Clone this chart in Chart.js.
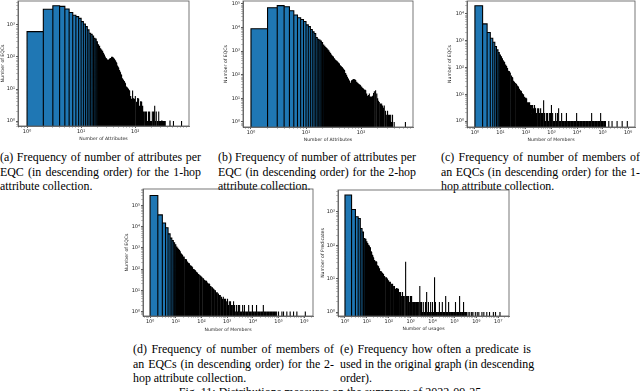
<!DOCTYPE html>
<html><head><meta charset="utf-8">
<script src="https://cdn.jsdelivr.net/npm/chart.js@4/dist/chart.umd.min.js"></script>
<style>
html,body{margin:0;padding:0;background:#fff;width:640px;height:391px;overflow:hidden}
body{position:relative}
canvas{position:absolute}
.cap{position:absolute;font-family:"Liberation Serif","Times New Roman",serif;font-size:11.9px;line-height:14.5px;color:#000}
.cap div{text-align:justify;text-align-last:justify;white-space:nowrap}
.cap div.last{text-align-last:left}
.fig{position:absolute;left:10px;width:640px;text-align:center;font-family:"Liberation Serif","Times New Roman",serif;font-size:12px;line-height:14.5px;white-space:nowrap}
</style></head><body>

<div class="cap" style="left:0;top:150px;width:201px">
<div>(a) Frequency of number of attributes per</div>
<div>EQC (in descending order) for the 1-hop</div>
<div class="last">attribute collection.</div>
</div>
<div class="cap" style="left:218px;top:150px;width:198px">
<div>(b) Frequency of number of attributes per</div>
<div>EQC (in descending order) for the 2-hop</div>
<div class="last">attribute collection.</div>
</div>
<div class="cap" style="left:441px;top:150px;width:199px">
<div>(c) Frequency of number of members of</div>
<div>an EQCs (in descending order) for the 1-</div>
<div class="last">hop attribute collection.</div>
</div>
<div class="cap" style="left:133px;top:342px;width:201px">
<div>(d) Frequency of number of members of</div>
<div>an EQCs (in descending order) for the 2-</div>
<div class="last">hop attribute collection.</div>
</div>
<div class="cap" style="left:340px;top:342px;width:191px">
<div>(e) Frequency how often a predicate is</div>
<div>used in the original graph (in descending</div>
<div class="last">order).</div>
</div>
<div class="fig" style="top:385px">Fig. 11: Distributions measures on the summary of 2022-09-25</div>

<script>
// ---------- data (bin start value, count) ----------
const aX = [1,2,3,4,5,6,7,8,9,10,11,12,13,14,15,16,17,18,19,20,21,22,23,24,25,26,27,28,29,30,31,32,33,34,35,36,37,38,39,40,
  41,42,43,44,45,46,47,48,49,50,51,52,53,54,55,56,57,58,59,60,
  62,64,66,68,70,73,76,79,82,85, 88,91,94,97,100,104,108,112,116,120,
  124,128,132,137,142,147,152,157,162,168, 174,180,186,193,200,207,214,221,229,237,
  245,254,263,272,282,292,302,313,324,335, 347,359,440,510,720];
const aN = [620,3100,4000,3800,3150,2450,2000,1820,1600,1270,1070,890,700,550,510,450,380,360,300,240,
  215,180,165,150,130,115,100,90,82,78,80,76,82,86,90,96,98,94,90,86,
  80,76,70,66,62,52,50,46,40,38,35,33,30,28,24,22,21,20,19,18,
  17,15,14,12,11,10,9,8,6,5, 9,5,4,5,6,4,3,5,3,3,
  2,4,2,3,2,2,1,2,2,1, 2,1,2,1,1,2,1,2,3,1,
  2,1,1,2,1,1,1,1,1,1, 1,1,1,1,1];

const bX = [1,2,3,4,5,6,7,8,9,10,11,12,13,14,15,16,17,18,19,20,21,22,23,24,25,26,27,28,29,30,31,32,33,
  34,35,36,37,38,39,40,41,42,43,44,45,46,47,48,49,50,
  52,54,56,58,60,62,64,66,68, 71,74,77,80,83,86,89,92,95,98,
  102,106,110,114,118,122,126,131,136,141, 146,151,156,162,168,174,180,186,193,200,
  207,214,222,230,238,246,255,264,273,283, 293,303,314,325,336,348,360,373,400,640];
const bN = [8900,69000,85000,77000,52000,34000,26000,22000,18000,13000,11000,8300,6600,5600,3800,3200,2950,2700,2300,1800,
  1600,1440,1300,1150,1040,900,800,680,620,580,520,470,420,
  400,380,355,330,310,290,257,240,230,215,205,195,180,170,160,152,147,
  120,100,82,70,55,50,46,50,56, 60,63,60,55,50,46,43,40,36,34,
  32,28,26,24,22,20,16,13,14,16, 12,11,12,13,17,20,22,19,16,10,
  8,7,6,5,6,5,4,5,3,3, 2,3,2,2,1,2,1,2,1,1];

const cX = [1,2,3,4,5,6,7,8,9,10,11,12,13,14,15,16,17,18,
  20,21,23,24,26,28,30,32,34,36, 39,42,45,48,51,55,59,63,67,72, 77,82,88,94,100,107,115,123,131,140,
  150,160,171,183,196,210,225,240,257,275, 294,315,337,360,385,412,441,472,505,540,
  578,618,661,707,757,810,867,928,993,1062, 1137,1216,1301,1392,1490,1594,1706,1825,1953,2090,
  2236,2393,2560,2740,2932,3137,3357,3592,3843,4112, 4400,4708,5038,5390,5768,6171,6603,7066,7560,8090,
  8656,9262,9910,10604,11346,12140,12990,13900,14873,15914, 17028,18220,19495,20860,22320,23883,25554,27343,29257,31305,
  33496,35841,38350,41034,43907,46980,50269,53787,57553,61581, 65892,70504,75440,80720,86370,92416,98886,105808,113215,121140,
  129620,175000,235000,370000,585000,930000];
const cN = [20000,4200,2000,1230,870,600,450,355,290,250,210,178,160,140,123,110,100,90,
  75,70,62,57,50,42,33,32,29,27, 26,24,21,19,18,16,14,13,12,11, 10,9,8,7,7,6,5,5,4,5,
  4,4,3,4,3,4,3,3,2,3, 2,3,2,2,3,2,2,2,6,2, 1,2,1,2,1,2,1,2,4,1, 2,1,1,2,1,1,2,1,3,1,
  1,1,2,1,1,1,1,1,2,1, 1,1,1,1,1,1,1,1,1,1, 1,1,2,1,1,1,1,1,1,1, 1,1,1,1,1,1,1,1,1,1,
  1,1,2,1,1,1,1,1,1,1, 1,1,1,2,1,1,1,1,1,1, 1,1,1,1,1,1];

const dX = [1,2,3,4,5,6,7,8,9,10,11,12,13,14,15,16,17,18,
  20,21,23,24,26,28,30,32,34,36, 39,42,45,48,51,55,59,63,67,72, 77,82,88,94,100,107,115,123,131,140,
  150,160,171,183,196,210,225,240,257,275, 294,315,337,360,385,412,441,472,505,540,
  578,618,661,707,757,810,867,928,993,1062, 1137,1216,1301,1392,1490,1594,1706,1825,1953,2090,
  2236,2393,2560,2740,2932,3137,3357,3592,3843,4112, 4400,4708,5038,5390,5768,6171,6603,7066,7560,8090,
  8656,9262,9910,10604,11346,12140,12990,13900,14873,15914, 17028,18220,19495,20860,22320,23883,25554,27343,29257,31305,
  33496,35841,38350,41034,43907,46980,50269,53787,57553,61581, 65892,70504,75440,80720,86370,100000,135000,156000,210000,283000,
  383000,516000,1100000];
const dN = [295000,36000,15000,8900,4600,2900,2200,1750,1400,1080,950,840,750,660,525,500,460,420,
  365,340,300,280,250,225,200,180,165,150, 135,123,110,100,93,86,79,74,69,63, 58,54,50,47,44,40,37,34,31,29,
  27,25,23,21,20,18,16,15,14,13, 12,11,10,9,8,8,7,7,6,6, 5,5,4,5,4,3,4,3,4,3, 2,3,2,3,2,2,3,2,2,1,
  2,2,1,2,1,2,1,1,2,1, 1,2,1,1,1,1,2,1,1,1, 1,1,2,1,1,1,1,2,1,1, 1,1,1,1,1,1,2,1,1,1,
  1,1,1,1,1,1,1,1,1,1, 1,1,1,1,1,1,1,1,1,1, 1,1,1];

const eX = [1,2,3,4,5,6,7,8,9,10,
  11,12,13,14,15,16,17,19,20,22, 24,26,28,30,32,35,38,41,44,47, 51,55,59,64,69,75,81,87,94,101,
  109,118,128,138,149,161,174,188,203,219, 237,256,276,298,322,348,376,406,438,473,
  511,552,596,610,644,695,751,811,876,946, 1022,1104,1192,1287,1390,1501,1621,1751,1891,2042,
  2206,2382,2573,2650,2778,3001,3241,3500,3780,4083, 4409,4762,5143,5554,5999,6479,6997,7557,8161,8814,
  9519,10281,11103,11991,12600,12951,13987,15106,16314,17619, 19029,20551,22195,23971,25888,27959,30196,32612,35221,38038,
  41081,44368,47917,51751,55891,60362,65191,70406,76039,82122, 88692,95787,103450,111726,120664,130317,140743,152002,164162,178000,
  191479,206797,223341,241208,260505,281345,303853,328161,354413,420000,
  500000,610000,700000,900000,1100000,1300000,1800000,2200000,3000000,4000000, 6000000,7500000,12000000];
const eN = [3200,1170,710,630,316,250,158,150,126,112,
  100,95,85,75,63,55,50,42,40,36, 33,32,30,25,23,20,18,17,16,15, 15,14,13,12,11,11,10,10,9,9,
  8,8,7,7,7,6,6,5,5,5, 5,4,5,4,4,4,3,4,3,3, 3,4,3,32,3,3,2,3,2,3, 2,3,2,2,2,2,2,2,2,2,
  2,1,2,6,2,1,2,1,2,1, 1,2,1,4,1,2,1,1,2,1, 1,2,1,1,11,1,2,1,1,1, 1,2,1,1,1,2,1,1,1,1,
  3,1,1,1,2,1,1,1,1,1, 1,1,1,2,1,1,1,1,1,3, 1,1,1,1,2,1,1,1,1,1,
  1,1,1,1,1,1,1,1,1,1, 1,1,1];

// labelled (major) ticks
const aXTicks = [1,10,100],            aYTicks = [1,10,100,1000];
const bXTicks = [1,10,100],            bYTicks = [1,10,100,1000,10000,100000];
const cXTicks = [1,10,100,1e3,1e4,1e5,1e6], cYTicks = [1,10,100,1000,10000];
const dXTicks = [1,10,100,1e3,1e4,1e5,1e6], dYTicks = [1,10,100,1000,10000,100000];
const eXTicks = [1,10,100,1e3,1e4,1e5,1e6,1e7], eYTicks = [1,10,100,1000];

// ---------- rendering ----------
const SUP = {'-':'⁻','0':'⁰','1':'¹','2':'²','3':'³','4':'⁴','5':'⁵','6':'⁶','7':'⁷','8':'⁸','9':'⁹'};
const sup = n => String(n).split('').map(c => SUP[c]).join('');
function tickList(major, min, max) {
  const out = [];
  const lo = Math.floor(Math.log10(min)), hi = Math.ceil(Math.log10(max));
  for (let e = lo; e <= hi; e++) for (let m = 1; m < 10; m++) {
    const v = +(m * Math.pow(10, e)).toPrecision(6);
    if (v >= min && v <= max) out.push({value: v, major: major.includes(v)});
  }
  return out;
}
const BASE = 0.05;
function barPath(X, N) {
  const pts = [];
  for (let i = 0; i < X.length; i++) {
    pts.push({x: X[i], y: BASE}, {x: X[i], y: N[i]}, {x: X[i] + 1, y: N[i]}, {x: X[i] + 1, y: BASE});
  }
  return pts;
}
const frame = {
  id: 'frame',
  afterDatasetsDraw(chart) {
    const {ctx, chartArea: a} = chart;
    ctx.save(); ctx.strokeStyle = '#555'; ctx.lineWidth = 0.8;
    ctx.strokeRect(a.left, a.top, a.right - a.left, a.bottom - a.top);
    ctx.restore();
  }
};
const FONT = 'DejaVu Sans';
function axis(kind, major, min, max, size, title) {
  return {
    type: 'logarithmic', min, max, bounds: 'data',
    afterBuildTicks: s => { s.ticks = tickList(major, min, max); },
    afterFit: s => { if (kind === 'x') s.height = size; else s.width = size; },
    ticks: {
      autoSkip: false, maxRotation: 0, minRotation: 0, padding: 1,
      font: {family: FONT, size: 5}, color: '#222',
      callback: v => major.includes(v) ? '10' + sup(Math.round(Math.log10(v))) : ''
    },
    grid: {
      drawOnChartArea: false, drawTicks: true, tickLength: 2,
      tickColor: c => (c.tick && c.tick.major) ? '#333' : '#999',
      tickWidth: c => (c.tick && c.tick.major) ? 0.8 : 0.6
    },
    border: {display: true, color: '#555', width: 0.8},
    title: {display: true, text: title, font: {family: FONT, size: 4.6}, color: '#222', padding: 0}
  };
}
function panel(p) {
  const cv = document.createElement('canvas');
  cv.width = p.w; cv.height = p.h;
  cv.style.left = p.left + 'px'; cv.style.top = p.top + 'px';
  cv.style.width = p.w + 'px'; cv.style.height = p.h + 'px';
  document.body.appendChild(cv);
  new Chart(cv, {
    type: 'scatter',
    data: {datasets: [{
      data: barPath(p.X, p.N), showLine: true, parsing: false,
      backgroundColor: '#1f77b4', borderColor: '#000', borderWidth: 1.1,
      pointRadius: 0, tension: 0, fill: 'start', clip: 0
    }]},
    options: {
      responsive: false, animation: false, devicePixelRatio: 1, events: [],
      layout: {padding: {left: 0, top: p.padTop, right: p.padRight, bottom: 0}},
      plugins: {legend: {display: false}, tooltip: {enabled: false}},
      scales: {
        x: axis('x', p.xMajor, p.xMin, p.xMax, p.xH, p.xTitle),
        y: axis('y', p.yMajor, p.yMin, p.yMax, p.yW, p.yTitle)
      }
    },
    plugins: [frame]
  });
}

panel({left: 0, top: -4, w: 193, h: 146, padTop: 5, padRight: 4, yW: 18, xH: 16,
  X: aX, N: aN, xMajor: aXTicks, yMajor: aYTicks, xMin: 0.68, xMax: 990, yMin: 0.70, yMax: 5600,
  xTitle: 'Number of Attributes', yTitle: 'Number of EQCs'});
panel({left: 223, top: -4, w: 194, h: 147, padTop: 5, padRight: 4, yW: 20, xH: 16,
  X: bX, N: bN, xMajor: bXTicks, yMajor: bYTicks, xMin: 0.716, xMax: 880, yMin: 0.61, yMax: 134000,
  xTitle: 'Number of Attributes', yTitle: 'Number of EQCs'});
panel({left: 447, top: -4, w: 192, h: 147, padTop: 5, padRight: 4, yW: 20, xH: 16,
  X: cX, N: cN, xMajor: cXTicks, yMajor: cYTicks, xMin: 0.49, xMax: 1.86e6, yMin: 0.6, yMax: 30000,
  xTitle: 'Number of Members', yTitle: 'Number of EQCs'});
panel({left: 124, top: 184, w: 193, h: 149, padTop: 5, padRight: 4, yW: 19, xH: 17,
  X: dX, N: dN, xMajor: dXTicks, yMajor: dYTicks, xMin: 0.53, xMax: 2.19e6, yMin: 0.61, yMax: 600000,
  xTitle: 'Number of Members', yTitle: 'Number of EQCs'});
panel({left: 320, top: 185, w: 193, h: 147, padTop: 5, padRight: 4, yW: 18, xH: 16,
  X: eX, N: eN, xMajor: eXTicks, yMajor: eYTicks, xMin: 0.48, xMax: 3.1e7, yMin: 0.76, yMax: 4500,
  xTitle: 'Number of usages', yTitle: 'Number of Predicates'});
</script>
</body></html>
